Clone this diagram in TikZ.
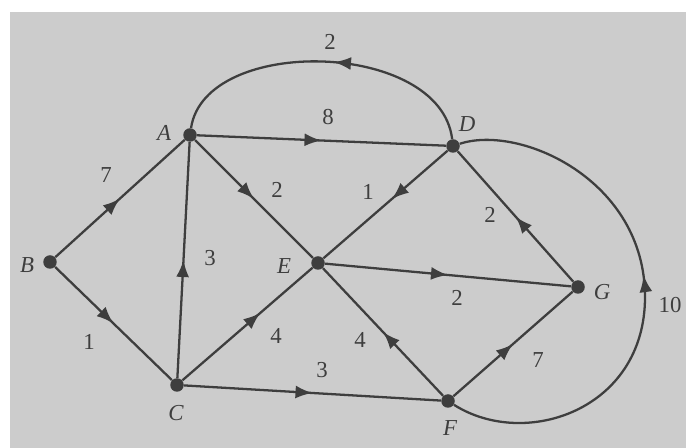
\documentclass[tikz,border=0pt]{standalone}
\usepackage{fontspec}
\setmainfont{Liberation Serif}
\usetikzlibrary{arrows.meta,decorations.markings}
\definecolor{bgc}{RGB}{204,204,204}
\definecolor{inkc}{RGB}{62,62,62}
\tikzset{
  dot/.style={circle,fill=inkc,inner sep=0pt,minimum size=0.27cm},
  edge/.style={draw=inkc,line width=1.3pt},
  midarrow/.style={postaction={decorate},decoration={markings,
    mark=at position #1 with {\arrow{Latex[length=3.4mm,width=2.6mm]}}}},
  midarrow/.default=0.5,
  vlab/.style={text=inkc,font=\fontsize{13}{15}\selectfont\itshape,inner sep=0pt},
  wlab/.style={text=inkc,font=\fontsize{13}{15}\selectfont,inner sep=0pt}
}
\begin{document}
\begin{tikzpicture}[x=0.02cm,y=-0.02cm]
\useasboundingbox (0,0) rectangle (686,448);
\fill[white] (0,0) rectangle (686,448);
\fill[bgc] (10,12) rectangle (686,448);
% vertices
\node[dot] (B) at (50,262) {};
\node[dot] (A) at (190,135) {};
\node[dot] (C) at (177,385) {};
\node[dot] (E) at (318,263) {};
\node[dot] (D) at (453,146) {};
\node[dot] (G) at (578,287) {};
\node[dot] (F) at (448,401) {};
% vertex labels
\node[vlab] (lB) at (27,265) {B};
\node[vlab] (lA) at (164,133) {A};
\node[vlab] (lC) at (176,413) {C};
\node[vlab] (lE) at (284,266) {E};
\node[vlab] (lD) at (467,124) {D};
\node[vlab] (lG) at (602,292) {G};
\node[vlab] (lF) at (450,428) {F};
% edges
\draw[edge,midarrow] (B) -- (A);
\draw[edge,midarrow] (B) -- (C);
\draw[edge,midarrow] (C) -- (A);
\draw[edge,midarrow] (A) -- (E);
\draw[edge,midarrow] (A) -- (D);
\draw[edge,midarrow=0.45] (D) -- (E);
\draw[edge,midarrow=0.6] (C) -- (E);
\draw[edge,midarrow] (E) -- (G);
\draw[edge,midarrow] (C) -- (F);
\draw[edge,midarrow] (F) -- (E);
\draw[edge,midarrow] (G) -- (D);
\draw[edge,midarrow] (F) -- (G);
\draw[edge,midarrow=0.47] (D) .. controls (440,40) and (205,35) .. (A);
\draw[edge,midarrow=0.535] (F) .. controls (525,450) and (645,410) .. (645,297)
   .. controls (645,180) and (520,124) .. (D);
% weights
\node[wlab] (w1) at (106,175) {7};
\node[wlab] (w2) at (89,342) {1};
\node[wlab] (w3) at (210,258) {3};
\node[wlab] (w4) at (277,190) {2};
\node[wlab] (w5) at (330,42) {2};
\node[wlab] (w6) at (328,117) {8};
\node[wlab] (w7) at (368,192) {1};
\node[wlab] (w8) at (276,336) {4};
\node[wlab] (w9) at (360,340) {4};
\node[wlab] (w10) at (322,370) {3};
\node[wlab] (w11) at (457,298) {2};
\node[wlab] (w12) at (490,215) {2};
\node[wlab] (w13) at (538,360) {7};
\node[wlab] (w14) at (670,305) {10};
\end{tikzpicture}
\end{document}
